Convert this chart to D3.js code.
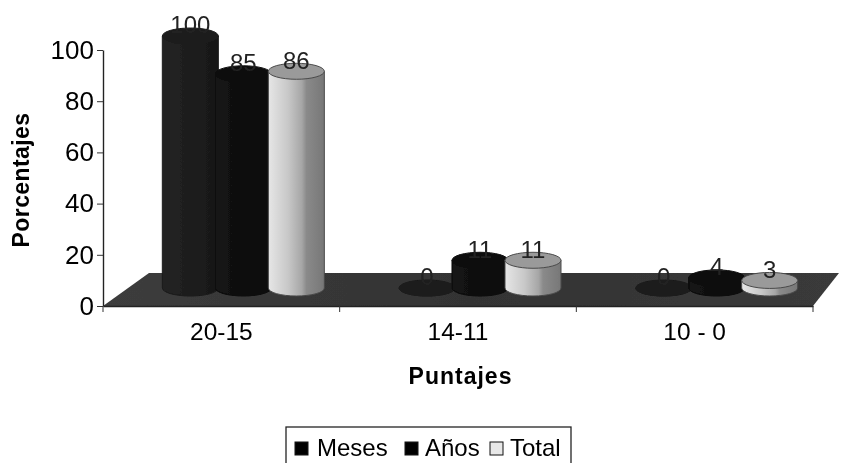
<!DOCTYPE html>
<html><head><meta charset="utf-8">
<script src="https://cdn.jsdelivr.net/npm/d3@7"></script>
<style>html,body{margin:0;padding:0;background:#fff}svg{display:block}
text{font-family:"Liberation Sans",Arial,sans-serif;fill:#000}</style></head>
<body><svg id="c" width="847" height="463"></svg>
<script>
const categories = ["20-15","14-11","10 - 0"];
const seriesNames = ["Meses","Años","Total"];
const meses = [100,0,0];
const anos = [85,11,4];
const total = [86,11,3];
const yTicks = [0,20,40,60,80,100];
const allSeries = [meses,anos,total];

const svg=d3.select("#c");
const defs=svg.append("defs");
const blur=defs.append("filter").attr("id","soft").attr("x","-5%").attr("y","-5%").attr("width","110%").attr("height","110%");
blur.append("feGaussianBlur").attr("stdDeviation",0.6);

function grad(id,stops){
  const g=defs.append("linearGradient").attr("id",id);
  stops.forEach(s=>g.append("stop").attr("offset",s[0]).attr("stop-color",s[1]));
}
grad("g0",[[0,"#242424"],[1,"#171717"]]);
grad("g1",[[0,"#141414"],[1,"#0a0a0a"]]);
grad("g2",[[0,"#e6e6e6"],[0.35,"#c8c8c8"],[0.6,"#a6a6a6"],[0.68,"#8a8a8a"],[1,"#777"]]);
grad("floor",[[0,"#3c3c3c"],[0.5,"#333"],[1,"#3a3a3a"]]);
const tops=["#1e1e1e","#0e0e0e","#9a9a9a"];
const strokes=["#1a1a1a","#090909","#4a4a4a"];
const swatch=["#050505","#050505","#e8e8e8"];

const root=svg.append("g").attr("filter","url(#soft)");

const x=d3.scaleBand().domain(categories).range([103,813]);
const y=d3.scaleLinear().domain([0,100]).range([306,50]);
const h=d3.scaleLinear().domain([0,100]).range([0,252]);
const inner=d3.scaleBand().domain(seriesNames).range([-79.5,79.5]);

const depthX=22, baseY=288, rx=28, ry=8;
const floorPts=[[103,306],[149,273],[839,273],[813,306]];
root.append("path").attr("d",d3.line()(floorPts)+"Z").attr("fill","url(#floor)");

const gy=root.append("g").attr("transform","translate(103,0)")
  .call(d3.axisLeft(y).tickValues(yTicks).tickSize(6).tickSizeOuter(0).tickPadding(3));
const gx=root.append("g").attr("transform","translate(0,306)")
  .call(d3.axisBottom(x).tickSize(0).tickPadding(17));
root.selectAll(".domain").attr("stroke","#222").attr("stroke-width",1.4);
gy.selectAll("line").attr("stroke","#333");
gy.selectAll("text").attr("font-size",26);
gx.selectAll("text").attr("font-size",24.5);
gx.selectAll(".tickmark").data(x.domain().map(c=>x(c)).concat([x.range()[1]]))
  .join("line").attr("x1",d=>d).attr("x2",d=>d).attr("y1",0).attr("y2",6).attr("stroke","#333");

categories.forEach((c,i)=>{
  const cx0=x(c)+x.bandwidth()/2+depthX;
  seriesNames.forEach((s,j)=>{
    const v=allSeries[j][i];
    const cx=cx0+inner(s)+inner.bandwidth()/2;
    const ht=h(v), top=baseY-ht;
    const g=root.append("g");
    g.append("path")
      .attr("d",`M${cx-rx},${top} L${cx-rx},${baseY} A${rx},${ry} 0 0 0 ${cx+rx},${baseY} L${cx+rx},${top} Z`)
      .attr("fill",`url(#g${j})`).attr("stroke",strokes[j]).attr("stroke-width",1);
    g.append("ellipse").attr("cx",cx).attr("cy",top).attr("rx",rx).attr("ry",ry)
      .attr("fill",tops[j]).attr("stroke",strokes[j]).attr("stroke-width",1);
  });
});
categories.forEach((c,i)=>{
  const cx0=x(c)+x.bandwidth()/2+depthX;
  seriesNames.forEach((s,j)=>{
    const v=allSeries[j][i];
    const cx=cx0+inner(s)+inner.bandwidth()/2;
    root.append("text").attr("x",cx).attr("y",baseY-h(v)-9)
      .attr("text-anchor","middle").attr("dominant-baseline","middle")
      .attr("font-size",24).style("fill","#222").text(v);
  });
});

root.append("text").attr("x",460.5).attr("y",384).attr("text-anchor","middle")
  .attr("font-size",23).attr("font-weight","bold").attr("letter-spacing",1).text("Puntajes");
root.append("text").attr("transform","translate(29,180) rotate(-90)").attr("text-anchor","middle")
  .attr("font-size",23).attr("font-weight","bold").attr("letter-spacing",0.4).text("Porcentajes");

root.append("rect").attr("x",286).attr("y",427).attr("width",285).attr("height",50)
  .attr("fill","#fff").attr("stroke","#222").attr("stroke-width",1.3);
const legendX=[295,405,490], legendText=[317,425,510];
seriesNames.forEach((s,j)=>{
  root.append("rect").attr("x",legendX[j]).attr("y",442).attr("width",13).attr("height",13)
    .attr("fill",swatch[j]).attr("stroke","#111");
  root.append("text").attr("x",legendText[j]).attr("y",456).attr("font-size",24).text(s);
});
</script></body></html>
